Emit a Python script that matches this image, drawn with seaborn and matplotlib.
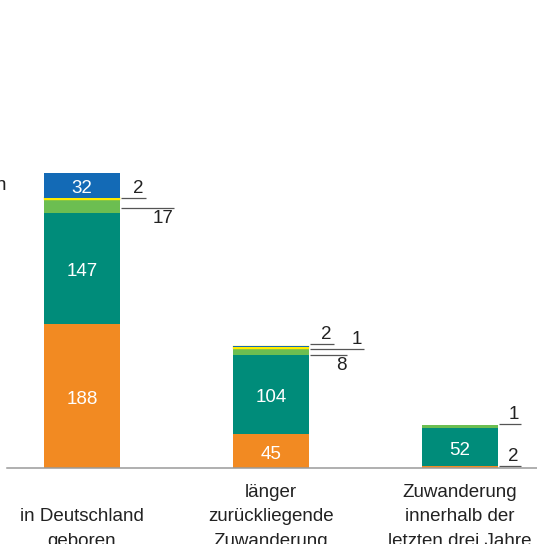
import numpy as np
import pandas as pd
import matplotlib
matplotlib.use("Agg")
import matplotlib.pyplot as plt
import matplotlib.transforms as mtransforms
import seaborn as sns

# ---- data -------------------------------------------------------------
categories = [
    "in Deutschland\ngeboren",
    "länger\nzurückliegende\nZuwanderung",
    "Zuwanderung\ninnerhalb der\nletzten drei Jahre",
]
# stacked segments, bottom to top
orange_vals = [188, 45, 2]
teal_vals = [147, 104, 52]
green_vals = [17, 8, 1]
yellow_vals = [2, 1, 0]
blue_vals = [32, 2, 0]

series_names = ["orange", "teal", "green", "yellow", "blue"]
series_vals = [orange_vals, teal_vals, green_vals, yellow_vals, blue_vals]
colors = {
    "orange": "#F28A22",
    "teal": "#008C7A",
    "green": "#6CBE51",
    "yellow": "#FFEC00",
    "blue": "#136AB6",
}
# thin layers get an outline in their own colour so they stay visible
edge_px = {"green": 2.0, "yellow": 2.4}

# values written inside the bars (bar index, series)
inside_labels = [(0, "orange"), (0, "teal"), (0, "blue"),
                 (1, "orange"), (1, "teal"),
                 (2, "teal")]
# values written beside the bars with a leader line:
# (bar index, series, line length px, vertical nudge px, text above/below line)
outside_labels = [
    (0, "yellow", 25, 0, "above"),
    (0, "green", 53, -2, "below"),
    (1, "blue", 24, 3, "above"),
    (1, "yellow", 54, -1, "above"),
    (1, "green", 37, -4, "below"),
    (2, "green", 22, 2, "above"),
    (2, "orange", 22, 1, "above"),
]

# ---- figure -----------------------------------------------------------
sns.set_theme(style="white")
plt.rcParams["font.family"] = ["Liberation Sans", "DejaVu Sans"]

W, H = 537, 544
PX_PER_UNIT = 0.764
SLOT_PX = 189
fig = plt.figure(figsize=(W / 100, H / 100), dpi=100)
ax = fig.add_axes([7 / W, 76 / H, 1 - 7 / W, 468 / H])

df = pd.DataFrame({"cat": categories})
for name, vals in zip(series_names, series_vals):
    df[name] = vals
cum = df[series_names].cumsum(axis=1)
base = cum.shift(1, axis=1).fillna(0)

bar_w = 0.4
# outlined layers are drawn before the ones above them, so the layer above covers the outline
for name in series_names:
    lw_px = edge_px.get(name, 0)
    n_before = len(ax.patches)
    sns.barplot(x=df["cat"], y=df[name], bottom=base[name].values,
                color=colors[name], width=bar_w - lw_px / SLOT_PX,
                saturation=1, ax=ax, order=categories,
                linewidth=lw_px * 0.72, edgecolor=colors[name])
    # empty segments draw nothing
    for patch in ax.patches[n_before:]:
        if patch.get_height() == 0:
            patch.set_visible(False)

ax.set_xlim(-75 / SLOT_PX, 455 / SLOT_PX)
ax.set_ylim(0, 468 / PX_PER_UNIT)
ax.set_xlabel("")
ax.set_ylabel("")
ax.set_xticks([])
ax.set_yticks([])
for s in ["top", "right", "left"]:
    ax.spines[s].set_visible(False)
ax.spines["bottom"].set_color("#9a9a9a")
ax.spines["bottom"].set_linewidth(1.1)
ax.spines["bottom"].set_zorder(5)

fs = 13.5
bar_half = bar_w / 2

# labels inside the segments
for i, name in inside_labels:
    k = series_names.index(name)
    mid = base[name].iloc[i] + series_vals[k][i] / 2
    tr = mtransforms.offset_copy(ax.transData, fig=fig, x=0, y=-1.5, units="dots")
    ax.text(i, mid, str(series_vals[k][i]), ha="center", va="center_baseline",
            color="white", fontsize=fs, transform=tr)

# leader lines and labels beside the bars
for i, name, length, dy, side in outside_labels:
    k = series_names.index(name)
    mid = base[name].iloc[i] + series_vals[k][i] / 2
    tr = mtransforms.offset_copy(ax.transData, fig=fig, x=1, y=dy, units="dots")
    x0 = i + bar_half
    p = ax.transData.transform((x0, mid))
    p_end = ax.transData.inverted().transform((p[0] + length, p[1]))
    ax.plot([x0, p_end[0]], [mid, mid], color="#555555", lw=0.9,
            transform=tr, solid_capstyle="butt", clip_on=False)
    if side == "above":
        ttr = mtransforms.offset_copy(ax.transData, fig=fig, x=-1, y=dy + 1, units="dots")
        ax.text(p_end[0], mid, str(series_vals[k][i]), ha="right", va="bottom",
                fontsize=fs, color="#222222", transform=ttr, clip_on=False)
    else:
        ttr = mtransforms.offset_copy(ax.transData, fig=fig, x=1, y=dy - 2, units="dots")
        ax.text(p_end[0], mid, str(series_vals[k][i]), ha="right", va="top",
                fontsize=fs, color="#222222", transform=ttr, clip_on=False)

# category labels under the axis, bottom-aligned
blend = mtransforms.blended_transform_factory(ax.transData, fig.transFigure)
for i, cat in enumerate(categories):
    ax.text(i, -6 / H, cat, ha="center", va="bottom", fontsize=fs,
            color="#222222", linespacing=1.58, transform=blend, clip_on=False)

# edge of the side caption
fig.text(-4 / W, (H - 190) / H, "n", ha="left", va="baseline", fontsize=fs,
         color="#222222")

fig.savefig("out.png", dpi=100)
